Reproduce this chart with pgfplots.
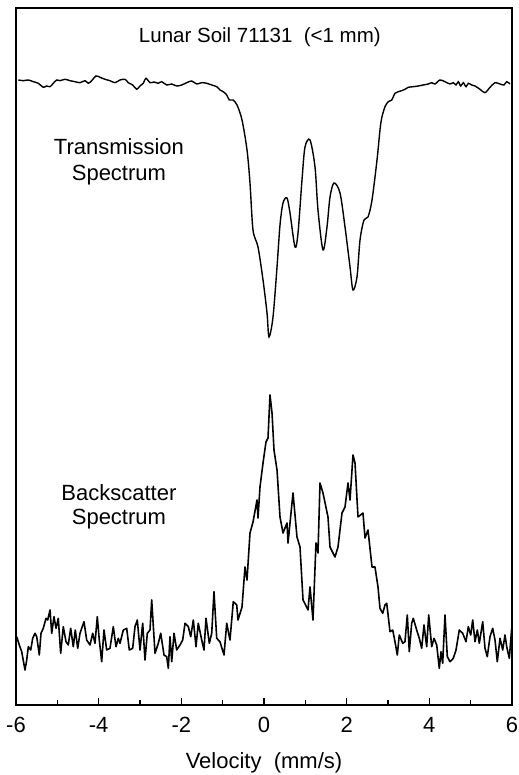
\documentclass[border=0pt]{standalone}
\usepackage{fontspec}
\setmainfont{Liberation Sans}
\usepackage{pgfplots}
\pgfplotsset{compat=1.18}
\usepackage{pgfplotstable}

\pgfplotstableread{
v y
-5.944 625
-5.823 624.3
-5.702 625
-5.581 623.3
-5.461 621.7
-5.340 617.7
-5.257 619
-5.177 618.3
-5.098 621.7
-5.015 625
-4.935 624.3
-4.815 625.7
-4.694 624.3
-4.573 623.3
-4.452 622.3
-4.331 624.3
-4.251 621.7
-4.169 624.3
-4.065 629
-3.968 627.7
-3.847 625.7
-3.726 624.3
-3.605 622.3
-3.484 625
-3.363 625.7
-3.283 622.3
-3.177 620
-3.080 615.7
-3.000 619
-2.920 621.7
-2.855 626.7
-2.758 622.3
-2.661 623
-2.557 621.7
-2.475 623.3
-2.354 620
-2.233 621
-2.112 619
-1.991 620
-1.870 622.3
-1.749 624
-1.628 621
-1.507 622.3
-1.386 621.7
-1.265 620
-1.144 618.3
-1.065 615
-0.985 613.3
-0.902 610
-0.840 605
-0.750 605
-0.653 600
-0.532 585
-0.411 555
-0.339 522
-0.266 475
-0.145 458
-0.024 425
0.073 392
0.121 368
0.218 388
0.315 438
0.387 480
0.460 502
0.556 507
0.629 492
0.750 458
0.823 472
0.919 525
0.992 558
1.113 565
1.234 538
1.306 495
1.427 455
1.524 478
1.597 508
1.694 522
1.839 512
1.960 478
2.081 438
2.153 415
2.250 428
2.323 465
2.419 485
2.516 488
2.613 505
2.734 545
2.806 575
2.848 587
2.927 598.3
3.007 603.3
3.090 605
3.169 611.7
3.249 613.3
3.331 614.3
3.411 615.7
3.491 617.7
3.612 618.3
3.733 619
3.854 620
3.975 621
4.057 622.3
4.137 621
4.258 625
4.379 623.3
4.500 621
4.580 622.3
4.645 620
4.701 623.3
4.759 619
4.822 622.3
4.887 618.3
4.943 621.7
5.025 620
5.105 619
5.226 615.7
5.347 612.3
5.468 617.7
5.589 622.3
5.710 621
5.806 620
5.872 623.3
5.952 621
}\transmission

\pgfplotstableread{
v y
-5.983 68.3
-5.920 60
-5.862 53.3
-5.782 35
-5.741 45
-5.702 58.3
-5.644 55
-5.596 66.7
-5.540 71.7
-5.499 68.3
-5.436 50
-5.395 71.7
-5.340 76.7
-5.274 86.7
-5.233 85
-5.177 95
-5.136 71.7
-5.081 88.3
-5.032 76.7
-4.977 86.7
-4.919 51.7
-4.856 78.3
-4.790 63.3
-4.735 60
-4.677 76.7
-4.614 58.3
-4.565 75
-4.507 56.7
-4.452 71.7
-4.355 83.3
-4.290 65
-4.210 60
-4.144 71.7
-4.089 61.7
-4.033 88.3
-3.985 65
-3.927 43.3
-3.871 75
-3.806 55
-3.726 56.7
-3.646 78.3
-3.581 58.3
-3.525 66.7
-3.484 61.7
-3.404 75
-3.322 76.7
-3.259 55
-3.177 56.7
-3.121 78.3
-3.065 85
-3.000 55
-2.935 81.7
-2.879 45
-2.823 71.7
-2.758 75
-2.717 105
-2.637 51.7
-2.557 61.7
-2.499 71.7
-2.419 50
-2.354 48.3
-2.315 36.7
-2.274 68.3
-2.233 43.3
-2.177 71.7
-2.112 55
-2.032 60
-1.967 65
-1.911 81.7
-1.831 78.3
-1.773 68.3
-1.710 85
-1.645 58.3
-1.590 81.7
-1.507 65
-1.452 55
-1.403 86.7
-1.323 61.7
-1.265 71.7
-1.210 113.3
-1.144 66.7
-1.065 63.3
-0.968 50
-0.902 81.7
-0.823 65
-0.743 103.3
-0.660 100
-0.629 85
-0.532 98
-0.460 138
-0.411 125
-0.339 172
-0.266 183
-0.169 205
-0.145 187
-0.097 218
-0.024 242
0.048 263
0.097 267
0.145 310
0.194 292
0.242 255
0.315 235
0.387 188
0.460 172
0.556 182
0.581 162
0.702 212
0.798 168
0.871 158
0.944 105
1.065 95
1.113 118
1.185 85
1.258 162
1.306 152
1.355 222
1.427 212
1.548 188
1.597 158
1.718 148
1.790 158
1.887 192
1.960 198
2.032 222
2.081 205
2.153 250
2.202 242
2.274 188
2.395 192
2.444 167
2.516 175
2.613 138
2.685 138
2.758 118
2.806 96.7
2.872 91.7
2.927 100
2.969 101.7
3.007 88.3
3.048 73.3
3.114 75
3.169 63.3
3.225 50
3.273 70
3.356 61.7
3.411 63.3
3.467 90
3.515 53.3
3.573 81.7
3.612 86.7
3.694 75
3.757 66.7
3.815 56.7
3.871 80
3.936 58.3
3.985 90
4.057 58.3
4.113 66.7
4.178 60
4.241 36.7
4.282 53.3
4.323 41.7
4.379 90
4.435 48.3
4.500 43.3
4.580 46.7
4.645 55
4.725 75
4.807 71.7
4.887 63.3
4.943 78.3
5.001 70
5.049 85
5.105 63.3
5.161 75
5.209 61.7
5.291 83.3
5.347 56.7
5.402 48.3
5.468 68.3
5.533 76.7
5.589 65
5.644 43.3
5.710 66.7
5.775 55
5.831 70
5.872 58.3
5.935 46.7
5.993 76.7
}\backscatter

\begin{document}
\begin{tikzpicture}
\begin{axis}[
  scale only axis,
  width=496pt, height=697pt,
  at={(0pt,0pt)}, anchor=south west,
  xmin=-6, xmax=6, ymin=0, ymax=697,
  axis line style={line width=2pt},
  xtick={-6,-4,...,6},
  minor xtick={-5,-3,...,5},
  ytick=\empty,
  xtick pos=bottom,
  xtick align=inside,
  major tick length=7pt,
  minor tick length=5pt,
  every tick/.style={line width=1.5pt, black},
  tick label style={font=\fontsize{22}{26}\selectfont, inner sep=0pt},
  xticklabel style={anchor=north, yshift=-12pt},
  /pgf/number format/assume math mode=true,
  xticklabel={\pgfmathprintnumber[assume math mode=true]{\tick}},
  xlabel={Velocity\ \ (mm/s)},
  xlabel style={font=\fontsize{22}{26}\selectfont, inner sep=0pt, at={(axis description cs:0.5,0)}, anchor=north, yshift=-47pt},
  clip=false,
]
\addplot[black, line width=1.4pt, smooth, tension=0.5] table[x=v,y=y] {\transmission};
\addplot[black, line width=1.6pt, line join=round] table[x=v,y=y] {\backscatter};
\node[font=\fontsize{20.5}{24}\selectfont] at (axis cs:-0.1,668) {Lunar Soil 71131\ \ (<1 mm)};
\node[font=\fontsize{22}{26}\selectfont, align=center] at (axis cs:-3.51,543) {Transmission\\Spectrum};
\node[font=\fontsize{22}{24}\selectfont, align=center] at (axis cs:-3.51,198) {Backscatter\\Spectrum};
\end{axis}
\path[use as bounding box] (-16pt,-70pt) rectangle (502pt,705pt);
\end{tikzpicture}
\end{document}
